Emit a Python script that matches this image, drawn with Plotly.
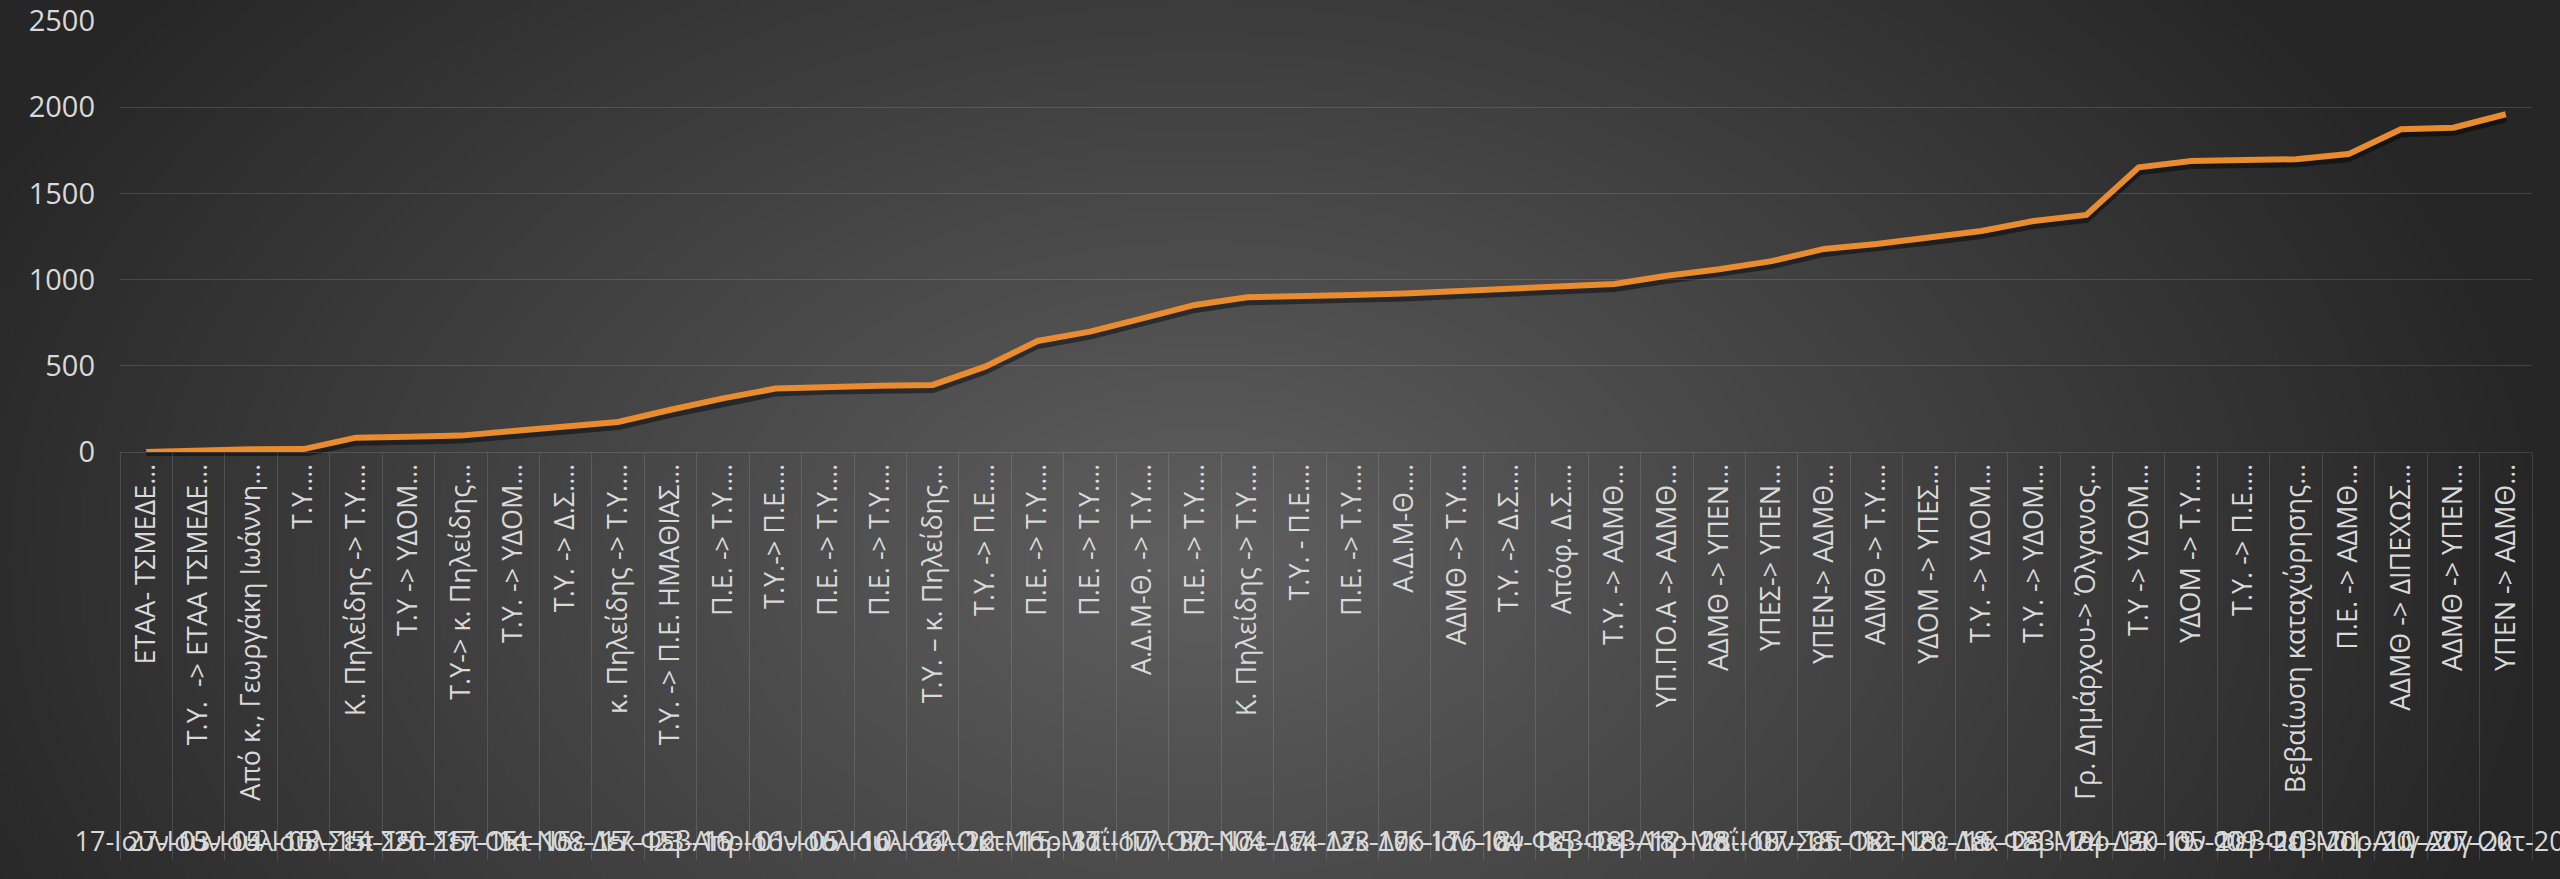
from __future__ import annotations

import base64
import struct
import zlib

import numpy as np
import plotly.graph_objects as go

WIDTH, HEIGHT = 2560, 879

# outer category level (dates) and inner level (document routing)
DATES = [
    "17-Ιουν-15", "27-Ιουν-15", "03-Ιουλ-15", "04-Ιουλ-15", "08-Σεπ-15", "14-Σεπ-15",
    "20-Σεπ-15", "17-Οκτ-15", "14-Νοε-15", "08-Δεκ-15", "17-Φεβ-16", "23-Απρ-16",
    "19-Ιουν-16", "01-Ιουλ-16", "05-Ιουλ-16", "10-Ιουλ-16", "24-Οκτ-16", "22-Μαρ-17",
    "15-Μαΐ-17", "31-Ιουλ-17", "17-Οκτ-17", "30-Νοε-17", "04-Δεκ-17", "14-Δεκ-17",
    "23-Δεκ-17", "06-Ιαν-18", "16-Ιαν-18", "04-Φεβ-18", "15-Φεβ-18", "04-Απρ-18",
    "12-Μαΐ-18", "28-Ιουν-18", "07-Σεπ-18", "05-Οκτ-18", "12-Νοε-18", "20-Δεκ-18",
    "16-Φεβ-19", "23-Μαρ-19", "24-Δεκ-19", "30-Ιαν-20", "05-Φεβ-20", "09-Φεβ-20",
    "10-Μαρ-20", "01-Αυγ-20", "10-Αυγ-20", "27-Οκτ-20",
]

STEPS = [
    "ΕΤΑΑ- ΤΣΜΕΔΕ…", "Τ.Υ.  -> ΕΤΑΑ ΤΣΜΕΔΕ…", "Από κ., Γεωργάκη Ιωάννη…", "Τ.Υ.…",
    "Κ. Πηλείδης -> Τ.Υ.…", "Τ.Υ -> ΥΔΟΜ…", "Τ.Υ-> κ. Πηλείδης…", "Τ.Υ. -> ΥΔΟΜ…",
    "Τ.Υ. -> Δ.Σ.…", "κ. Πηλείδης -> Τ.Υ.…", "Τ.Υ. -> Π.Ε. ΗΜΑΘΙΑΣ…", "Π.Ε. -> Τ.Υ.…",
    "Τ.Υ.-> Π.Ε.…", "Π.Ε. -> Τ.Υ.…", "Π.Ε. -> Τ.Υ.…", "Τ.Υ. – κ. Πηλείδης…",
    "Τ.Υ. -> Π.Ε.…", "Π.Ε. -> Τ.Υ.…", "Π.Ε. -> Τ.Υ.…", "Α.Δ.Μ-Θ. -> Τ.Υ.…",
    "Π.Ε. -> Τ.Υ.…", "Κ. Πηλείδης -> Τ.Υ.…", "Τ.Υ. - Π.Ε.…", "Π.Ε. -> Τ.Υ.…",
    "Α.Δ.Μ-Θ.…", "ΑΔΜΘ -> Τ.Υ.…", "Τ.Υ. -> Δ.Σ.…", "Απόφ. Δ.Σ.…",
    "Τ.Υ. -> ΑΔΜΘ…", "ΥΠ.ΠΟ.Α -> ΑΔΜΘ…", "ΑΔΜΘ -> ΥΠΕΝ…", "ΥΠΕΣ-> ΥΠΕΝ…",
    "ΥΠΕΝ-> ΑΔΜΘ…", "ΑΔΜΘ -> Τ.Υ.…", "ΥΔΟΜ -> ΥΠΕΣ…", "Τ.Υ. -> ΥΔΟΜ…",
    "Τ.Υ. -> ΥΔΟΜ…", "Γρ. Δημάρχου-> Όλγανος…", "Τ.Υ -> ΥΔΟΜ…", "ΥΔΟΜ -> Τ.Υ.…",
    "Τ.Υ. -> Π.Ε.…", "Βεβαίωση καταχώρησης…", "Π.Ε. -> ΑΔΜΘ…", "ΑΔΜΘ -> ΔΙΠΕΧΩΣ…",
    "ΑΔΜΘ -> ΥΠΕΝ…", "ΥΠΕΝ -> ΑΔΜΘ…",
]

# days elapsed since the first entry
DAYS = [
    0, 10, 16, 17, 83, 89, 95, 122, 150, 174, 245, 311, 368, 380, 384, 389,
    495, 644, 698, 775, 853, 897, 901, 911, 920, 934, 944, 963, 974, 1022,
    1060, 1107, 1178, 1206, 1244, 1282, 1340, 1375, 1651, 1688, 1694, 1698,
    1728, 1872, 1881, 1959,
]

Y_TICKS = [0, 500, 1000, 1500, 2000, 2500]

FONT = "Open Sans, Noto Sans, DejaVu Sans, sans-serif"
TEXT_COLOR = "#d9d9d9"
GRID_COLOR = "rgba(255,255,255,0.13)"
LINE_COLOR = "#e98b2f"


def _background_uri(w: int = 640, h: int = 220) -> str:
    """Radial grey gradient, encoded as a png data uri."""
    xs = np.linspace(0, WIDTH, w)[None, :]
    ys = np.linspace(0, HEIGHT, h)[:, None]
    t = np.sqrt(((xs - 1200) / 1350) ** 2 + ((ys - 560) / 900) ** 2)
    t = np.clip(t, 0, 1)
    pixels = (95 - 57 * t).round().astype(np.uint8)

    raw = b"".join(b"\x00" + pixels[r].tobytes() for r in range(h))

    def chunk(tag: bytes, data: bytes) -> bytes:
        crc = zlib.crc32(tag + data) & 0xFFFFFFFF
        return struct.pack(">I", len(data)) + tag + data + struct.pack(">I", crc)

    png = (
        b"\x89PNG\r\n\x1a\n"
        + chunk(b"IHDR", struct.pack(">IIBBBBB", w, h, 8, 0, 0, 0, 0))
        + chunk(b"IDAT", zlib.compress(raw, 9))
        + chunk(b"IEND", b"")
    )
    return "data:image/png;base64," + base64.b64encode(png).decode()


x_domain = [120 / WIDTH, 2532 / WIDTH]
y_domain = [1 - 452 / HEIGHT, 1 - 21 / HEIGHT]
shadow_shift = 4 / HEIGHT

fig = go.Figure()

# soft drop shadow: same series on a hidden axis nudged a few pixels down
fig.add_trace(
    go.Scatter(
        x=[DATES, STEPS],
        y=DAYS,
        mode="lines",
        line={"color": "rgba(0,0,0,0.45)", "width": 8},
        xaxis="x",
        yaxis="y",
        hoverinfo="skip",
    ),
)
fig.add_trace(
    go.Scatter(
        x=[DATES, STEPS],
        y=DAYS,
        mode="lines",
        line={"color": LINE_COLOR, "width": 6},
        xaxis="x",
        yaxis="y2",
    ),
)

fig.update_layout(
    width=WIDTH,
    height=HEIGHT,
    margin={"l": 0, "r": 0, "t": 0, "b": 0, "pad": 0},
    paper_bgcolor="#2a2a2a",
    plot_bgcolor="rgba(0,0,0,0)",
    showlegend=False,
    font={"family": FONT, "color": TEXT_COLOR, "size": 27},
    images=[
        {
            "source": _background_uri(),
            "xref": "paper",
            "yref": "paper",
            "x": 0,
            "y": 1,
            "sizex": 1,
            "sizey": 1,
            "sizing": "stretch",
            "xanchor": "left",
            "yanchor": "top",
            "layer": "below",
        },
    ],
    xaxis={
        "type": "multicategory",
        "domain": x_domain,
        "anchor": "y2",
        "range": [-0.5, len(DAYS) - 0.5],
        "automargin": False,
        "tickangle": -90,
        "ticks": "",
        "showgrid": False,
        "showline": True,
        "linecolor": GRID_COLOR,
        "linewidth": 1,
        "showdividers": True,
        "dividercolor": GRID_COLOR,
        "dividerwidth": 1,
        "tickfont": {"size": 27, "color": TEXT_COLOR},
    },
    yaxis={
        "domain": [y_domain[0] - shadow_shift, y_domain[1] - shadow_shift],
        "anchor": "x",
        "range": [0, 2500],
        "visible": False,
        "showgrid": False,
    },
    yaxis2={
        "domain": y_domain,
        "anchor": "x",
        "range": [0, 2500],
        "tickvals": Y_TICKS,
        "ticks": "",
        "ticklabelstandoff": 24,
        "showgrid": True,
        "gridcolor": GRID_COLOR,
        "gridwidth": 1,
        "zeroline": False,
        "automargin": False,
        "tickfont": {"size": 29, "color": TEXT_COLOR},
    },
)

fig.write_html(
    "out.html",
    config={"displayModeBar": False},
    post_script="document.body.style.margin='0';document.body.style.overflow='hidden';",
)
